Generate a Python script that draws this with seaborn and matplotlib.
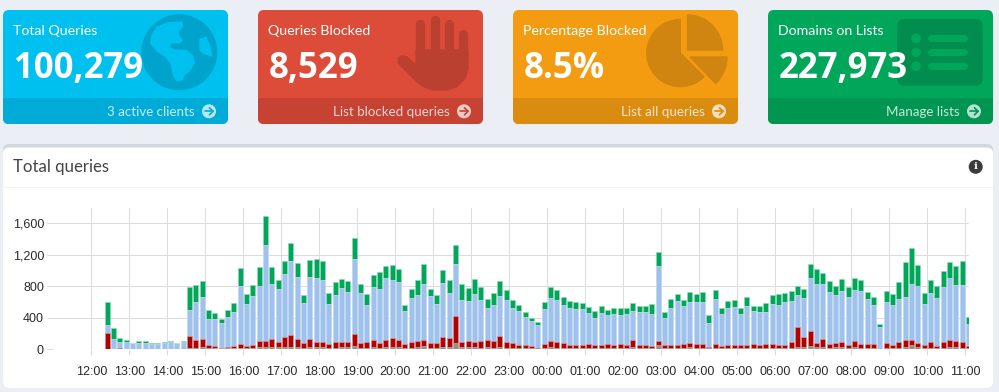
import numpy as np
import pandas as pd
import matplotlib
matplotlib.use("Agg")
import matplotlib.pyplot as plt
from matplotlib.patches import FancyBboxPatch, Wedge, Polygon, Circle, Rectangle
import seaborn as sns

# ---------- data ----------
gray_top = [0,0,0,0, 0,0,0,0,0,0, 0,0,0,21,21,24,
 21,18,12,14,18,18, 14,18,24,24,26,24, 26,28,24,18,24,24, 24,18,21,24,24,36,
 21,21,24,21,24,26, 24,18,21,24,36,21, 21,24,26,80,24,24, 24,21,24,21,26,21,
 21,18,14,14,8,18, 24,21,18,18,18,18, 18,14,18,18,18,18, 14,24,14,18,14,60,
 18,18,18,21,31,21, 21,12,21,18,18,14, 18,18,18,18,18,18, 18,18,21,31,31,46,
 24,28,21,24,24,18, 24,18,18,18,5,21, 18,21,31,56,24,18, 21,14,21,26,24,21, 12]
red_top = [212,5,13,5, 5,10,5,3,3,3, 4,3,3,165,118,127,
 60,42,13,25,42,68, 42,50,106,101,127,89, 161,186,127,76,127,89, 97,63,89,89,89,199,
 80,89,118,85,118,144, 118,72,89,101,123,80, 80,152,144,427,93,101, 89,110,118,106,165,89,
 85,55,50,42,21,63, 106,97,76,59,55,59, 63,50,59,63,59,72, 50,123,55,59,47,106,
 55,59,55,68,76,68, 68,34,63,47,55,55, 50,55,63,55,63,63, 55,55,97,279,152,229,
 76,127,63,80,89,55, 106,63,63,63,8,76, 55,97,123,118,76,50, 93,42,93,118,106,93, 42]
blue_top = [309,131,89,97, 76,85,80,72,72,80, 93,76,93,500,600,665,
 381,390,334,406,474,800, 571,673,800,1329,830,766, 957,1122,919,584,919,906, 885,576,694,779,728,1147,
 711,567,796,766,902,880, 855,491,652,690,830,677, 576,838,720,1079,631,614, 703,626,520,559,677,626,
 525,483,411,356,309,508, 648,622,563,525,516,512, 461,398,457,440,444,436, 448,483,474,470,453,1062,
 398,525,614,550,605,597, 597,334,639,453,520,533, 448,550,487,474,470,576, 559,601,614,694,648,906,
 830,830,732,690,741,669, 753,745,639,563,288,605, 563,639,669,834,804,576, 715,648,791,902,813,817, 322]
total_top = [597,275,140,114, 78,105,105,80,80,97, 102,78,105,790,812,863,
 495,457,385,495,588,1029, 703,813,1046,1697,1046,880, 1122,1350,1096,694,1130,1143, 1118,711,851,889,864,1414,
 834,698,940,978,1058,1075, 1020,567,766,876,1079,766, 690,1003,885,1325,825,775, 889,787,635,711,864,749,
 626,563,478,398,347,601, 787,753,669,614,601,588, 537,482,554,499,529,525, 529,584,550,554,571,1232,
 478,635,698,626,724,703, 732,432,753,525,614,626, 529,664,550,554,588,690, 707,715,741,804,766,1079,
 1020,965,868,804,893,796, 902,876,724,664,322,736, 703,855,1113,1291,1067,719, 880,800,994,1105,1058,1126, 415]
hour_labels = ["12:00","13:00","14:00","15:00","16:00","17:00","18:00","19:00","20:00","21:00","22:00","23:00",
               "00:00","01:00","02:00","03:00","04:00","05:00","06:00","07:00","08:00","09:00","10:00","11:00"]
y_ticks = [0, 400, 800, 1200, 1600]

card_titles = ["Total Queries", "Queries Blocked", "Percentage Blocked", "Domains on Lists"]
card_values = ["100,279", "8,529", "8.5%", "227,973"]
card_links = ["3 active clients", "List blocked queries", "List all queries", "Manage lists"]
card_colors = ["#00c0ef", "#dd4b39", "#f39c12", "#00a65a"]
foot_colors = ["#00acd7", "#c64333", "#da8c10", "#009551"]
icon_colors = ["#00a3cb", "#bc4030", "#cf850f", "#008d4d"]
panel_title = "Total queries"

W, H = 999, 392
BG = "#ebeef4"
sns.set_theme(style="white")
UI = ["Lato", "DejaVu Sans"]
NUM = ["Open Sans", "DejaVu Sans"]
plt.rcParams["font.family"] = ["Liberation Sans", "DejaVu Sans"]

fig = plt.figure(figsize=(W / 100, H / 100), dpi=100, facecolor=BG)

ui = fig.add_axes([0, 0, 1, 1], zorder=0)
ui.set_xlim(0, W); ui.set_ylim(0, H); ui.axis("off")
def Y(y): return H - y

def rrect(x0, y0, x1, y1, r, color, z=1, **kw):
    p = FancyBboxPatch((x0 + r, Y(y1) + r), x1 - x0 - 2 * r, y1 - y0 - 2 * r,
                       boxstyle=f"round,pad={r},rounding_size={r}", fc=color, ec="none", zorder=z, **kw)
    ui.add_patch(p)
    return p

def thick(x0, y0, x1, y1, w, color, z):
    ui.plot([x0, x1], [Y(y0), Y(y1)], color=color, lw=w * 0.72, solid_capstyle="round", zorder=z)

card_x = [3, 258, 513, 768]
card_w = 225
for i, cx in enumerate(card_x):
    rrect(cx, 10, cx + card_w, 124, 6, card_colors[i], 1)
    clip = rrect(cx, 10, cx + card_w, 124, 6, "none", 1)
    foot = Rectangle((cx, Y(124)), card_w, 26, fc=foot_colors[i], ec="none", zorder=2)
    ui.add_patch(foot)
    foot.set_clip_path(clip)

# globe icon
c = icon_colors[0]; bgc = card_colors[0]
ui.add_patch(Circle((179.3, Y(52.3)), 38, fc=c, ec="none", zorder=3))
def zpoly(pts, ox, color, z=4):
    ui.add_patch(Polygon([(ox + a / 3, Y(b / 3)) for a, b in pts], closed=True, fc=color, ec=color,
                         lw=1, joinstyle="round", zorder=z))
zpoly([(470,82),(505,68),(545,66),(548,78),(534,95),(536,108),(546,120),(540,128),(512,128),(508,142),
       (522,150),(560,152),(578,168),(582,190),(568,212),(552,225),(546,240),(530,241),(520,225),(514,190),
       (495,168),(470,152),(452,130),(456,105)], 0, bgc)
zpoly([(600,118),(618,112),(628,135),(636,168),(612,160),(600,150)], 0, bgc)

# hand icon
c = icon_colors[1]
for fx, ftop, fbot in [(420.3, 23.5, 55), (434.5, 19.5, 55), (448.8, 23.5, 55), (463, 33.5, 60)]:
    thick(fx, ftop, fx, fbot, 9.2, c, 3)
zpoly([(1248,150),(1404,150),(1404,205),(1395,235),(1370,260),(1340,270),(1300,270),(1270,260),(1245,240),
       (1195,190),(1195,175),(1205,167),(1220,170),(1248,195)], 0, c, 3)

# pie icon
c = icon_colors[2]
ui.add_patch(Wedge((680.3, Y(53)), 33.5, 90, 315, fc=c, ec=c, lw=1, zorder=3))
ui.add_patch(Wedge((687.5, Y(50)), 35, 0, 90, fc=c, ec=c, lw=1, zorder=3))
ui.add_patch(Wedge((690, Y(57)), 37, -46, 0, fc=c, ec=c, lw=1, zorder=3))

# list icon
c = icon_colors[3]; bgc = card_colors[3]
rrect(897.3, 19, 982.7, 85.7, 7, c, 3)
for yy in (38.3, 52.3, 66.3):
    ui.add_patch(Circle((916, Y(yy)), 4.8, fc=bgc, ec="none", zorder=4))
    thick(930.5, yy, 963.5, yy, 7, bgc, 4)

# card text
for i, cx in enumerate(card_x):
    ui.text(cx + 10, Y(31), card_titles[i], color="white", fontsize=10.2, family=UI, va="center", zorder=6)
    ui.text(cx + 10.5, Y(68.5), card_values[i], color="white", fontsize=25, family=NUM, fontweight="bold",
            va="center", zorder=6)
    acx = cx + 206
    ui.add_patch(Circle((acx, Y(111.3)), 7, fc="white", alpha=0.72, ec="none", zorder=6))
    ax0, ax1 = acx - 4, acx + 4
    ui.plot([ax0, ax1], [Y(111.3)] * 2, color=foot_colors[i], lw=1.2, zorder=7)
    ui.plot([acx + 0.5, ax1, acx + 0.5], [Y(107.8), Y(111.3), Y(114.8)], color=foot_colors[i], lw=1.2, zorder=7)
    ui.text(acx - 14, Y(111.5), card_links[i], color="white", alpha=0.78, fontsize=9.6, family=UI,
            ha="right", va="center", zorder=6)

# panel
rrect(3, 144, 993, 388, 6, "#d2d6de", 1)
rrect(3, 147.5, 993, 388, 6, "white", 2)
ui.plot([3, 993], [Y(187.4)] * 2, color="#f2f2f2", lw=0.8, zorder=3)
ui.text(13, Y(166.5), panel_title, color="#444444", fontsize=12.1, family=UI, va="center", zorder=4)
ui.add_patch(Circle((975.7, Y(166.8)), 7, fc="#3c3c3c", ec="none", zorder=4))
ui.text(975.7, Y(166.8), "i", color="white", fontsize=7.5, fontweight="bold", ha="center", va="center",
        family=["DejaVu Serif"], zorder=5)

# chart axes
L, R, T, B = 53, 968.7, 208.3, 349.3
ax = fig.add_axes([L / W, 1 - B / H, (R - L) / W, (B - T) / H], zorder=5)
ax.patch.set_alpha(0)

slots = pd.date_range("2024-01-01 12:25", periods=len(total_top), freq="10min")
hours = (slots - pd.Timestamp("2024-01-01 12:00")) / pd.Timedelta(hours=1)
df = pd.DataFrame({"h": np.asarray(hours, float), "gray": gray_top, "red": red_top, "blue": blue_top, "total": total_top})

for col, fill, edge in [("total", "#00a65a", "#8fdab6"), ("blue", "#a0c0f0", "#dbe7f9"),
                        ("red", "#b30000", "#e09a9a"), ("gray", "#9a8f85", "#c4bcb6")]:
    sns.barplot(data=df, x="h", y=col, native_scale=True, ax=ax, color=fill, saturation=1, width=0.77,
                edgecolor=edge, linewidth=0.45, errorbar=None, zorder=3)

ax.set_xlim((L - 91.3) / 38, (R - 91.3) / 38)
ax.set_ylim(0, (B - T) / 0.07875)
ax.set_xticks(range(len(hour_labels)))
ax.set_xticklabels(hour_labels)
ax.set_yticks(y_ticks)
ax.set_yticklabels([f"{v:,}" for v in y_ticks])
ax.set_xlabel(""); ax.set_ylabel("")
ax.grid(True, color="#dcdcdc", lw=0.75, zorder=0)
ax.set_axisbelow(True)
for s in ax.spines.values():
    s.set_visible(False)
ax.tick_params(axis="both", length=4, width=0.75, color="#dcdcdc", labelsize=9, labelcolor="#2a2a2a", bottom=True, left=True)
ax.tick_params(axis="y", pad=2.5)
ax.tick_params(axis="x", pad=8)

fig.savefig("out.png", dpi=100, facecolor=BG)
